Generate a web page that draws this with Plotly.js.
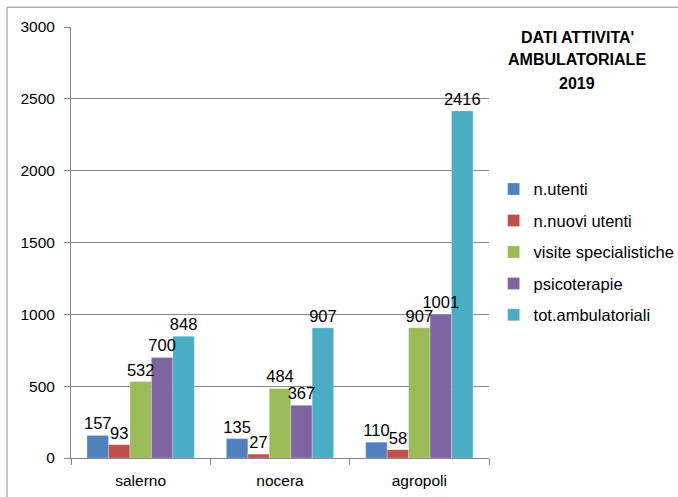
<!DOCTYPE html>
<html>
<head>
<meta charset="utf-8">
<script src="https://cdn.plot.ly/plotly-3.0.1.min.js"></script>
<style>html,body{margin:0;padding:0;background:#fff;}#chart{width:678px;height:497px;}</style>
</head>
<body>
<div id="chart"></div>
<script>
const categories = ['salerno', 'nocera', 'agropoli'];
const seriesNames = ['n.utenti', 'n.nuovi utenti', 'visite specialistiche', 'psicoterapie', 'tot.ambulatoriali'];
const nUtenti = [157, 135, 110];
const nNuoviUtenti = [93, 27, 58];
const visiteSpecialistiche = [532, 484, 907];
const psicoterapie = [700, 367, 1001];
const totAmbulatoriali = [848, 907, 2416];
const yTicks = [0, 500, 1000, 1500, 2000, 2500, 3000];
const titleLines = ["DATI ATTIVITA'", 'AMBULATORIALE', '2019'];

const colors = ['#4F81BD', '#C0504D', '#9BBB59', '#8064A2', '#4BACC6'];
const values = [nUtenti, nNuoviUtenti, visiteSpecialistiche, psicoterapie, totAmbulatoriali];
const FONT = 'Liberation Sans, Arial, sans-serif';

// real bars
const barTraces = values.map((v, i) => ({
  type: 'bar',
  name: seriesNames[i],
  x: categories,
  y: v,
  offsetgroup: 'g' + i,
  marker: {color: colors[i], line: {color: 'rgba(255,255,255,0.5)', width: 0.5}},
  legendgroup: 'g' + i,
  hoverinfo: 'x+y+name'
}));
// transparent copies carrying the data labels, drawn on top of all bars
const labelTraces = values.map((v, i) => ({
  type: 'bar',
  name: seriesNames[i],
  x: categories,
  y: v,
  offsetgroup: 'g' + i,
  text: v.map(String),
  textposition: 'outside',
  textfont: {family: FONT, size: 16.5, color: '#000'},
  constraintext: 'none',
  cliponaxis: false,
  marker: {color: 'rgba(0,0,0,0)'},
  showlegend: false,
  hoverinfo: 'skip'
}));

const titleY = [37, 60, 83];
const annotations = titleLines.map((t, k) => ({
  text: '<b>' + t + '</b>',
  xref: 'paper', yref: 'paper',
  x: (577 - 71) / 418, y: (458 - titleY[k]) / 431,
  xanchor: 'center', yanchor: 'middle',
  showarrow: false,
  font: {family: FONT, size: 16, color: '#000'}
}));

const layout = {
  width: 678, height: 497,
  margin: {l: 71, r: 189, t: 27, b: 39, autoexpand: false},
  paper_bgcolor: '#fff', plot_bgcolor: '#fff',
  font: {family: FONT, size: 15, color: '#000'},
  barmode: 'group',
  bargap: 0.23,
  bargroupgap: 0,
  annotations: annotations,
  xaxis: {
    type: 'category',
    showline: true, linecolor: '#868686', linewidth: 1,
    ticks: 'outside', tickson: 'boundaries', ticklen: 6, tickcolor: '#868686',
    tickfont: {family: FONT, size: 15.5, color: '#000'},
    ticklabelstandoff: 8,
    showgrid: false
  },
  yaxis: {
    range: [0, 3000],
    tickvals: yTicks,
    showline: true, linecolor: '#868686', linewidth: 1,
    ticks: 'outside', ticklen: 6, tickcolor: '#868686',
    showgrid: true, gridcolor: '#868686', gridwidth: 1,
    zeroline: false,
    tickfont: {family: FONT, size: 15.5, color: '#000'},
    ticklabelstandoff: 6
  },
  legend: {
    x: 1.011, xanchor: 'left', y: 0.664, yanchor: 'top',
    traceorder: 'grouped', tracegroupgap: 7,
    font: {family: FONT, size: 16.5, color: '#000'},
    bgcolor: 'rgba(0,0,0,0)', itemwidth: 30
  },
  shapes: [
    {type: 'line', xref: 'paper', yref: 'paper', x0: -0.153, x1: 1.46, y0: 1.046, y1: 1.046, line: {color: '#8c8c8c', width: 1}},
    {type: 'line', xref: 'paper', yref: 'paper', x0: -0.153, x1: -0.153, y0: 1.046, y1: -0.1, line: {color: '#8c8c8c', width: 1}}
  ],
  showlegend: true
};

Plotly.newPlot('chart', barTraces.concat(labelTraces), layout, {displayModeBar: false, staticPlot: true});
</script>
</body>
</html>
